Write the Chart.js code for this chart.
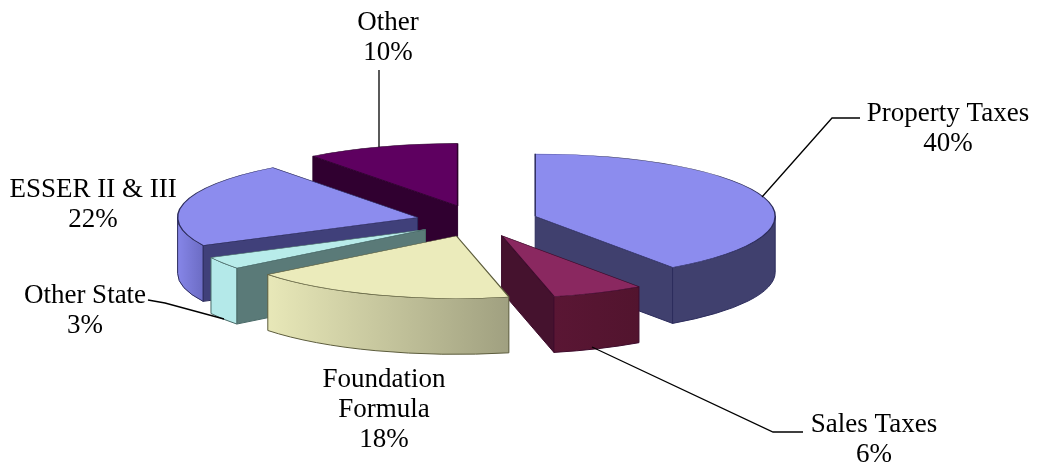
<!DOCTYPE html>
<html>
<head>
<meta charset="utf-8">
<style>
html, body { margin: 0; padding: 0; background: #fff; }
canvas { display: block; }
</style>
<script src="https://cdn.jsdelivr.net/npm/chart.js@4/dist/chart.umd.min.js"></script>
</head>
<body>
<canvas id="chart" width="1037" height="468"></canvas>
<script>
"use strict";

var categories = ["Property Taxes", "Sales Taxes", "Foundation Formula", "Other State", "ESSER II & III", "Other"];
var shares = [40.3, 6.2, 17.9, 3.2, 22.1, 10.3];

var topColors = ["#8c8cee", "#8a2860", "#ebebbb", "#b8ecea", "#8c8cee", "#5e0060"];
var edgeColors = ["#2c2c5c", "#3e0c2c", "#5c5c3c", "#4a6a68", "#2c2c5c", "#2c002c"];
var cutColors = ["#40406e", "#45122e", "#a2a27e", "#5a7a78", "#40407a", "#300030"];
var rimFrom = ["#40406e", "#5a1634", "#e8e8b8", "#b4e9e9", "#8686e8", "#300030"];
var rimTo = ["#40406e", "#52142e", "#a0a080", "#b4e9e9", "#6c6cc4", "#300030"];

var SQUASH = 0.26;
var DEPTH = 56;
var EXPLODE = 61;
var RADIUS = 240;
var paintOrder = [5, 4, 3, 0, 1, 2];

function drawSides(c, arc, i) {
	var r = arc.outerRadius;
	var ry = r * SQUASH;

	c.lineWidth = 1;
	c.lineJoin = "round";
	c.strokeStyle = edgeColors[i];

	function cutFace(t) {
		var ex = arc.x + Math.cos(t) * r;
		var ey = arc.y + Math.sin(t) * ry;
		c.beginPath();
		c.moveTo(arc.x, arc.y);
		c.lineTo(ex, ey);
		c.lineTo(ex, ey + DEPTH);
		c.lineTo(arc.x, arc.y + DEPTH);
		c.closePath();
		c.fillStyle = cutColors[i];
		c.fill();
		c.stroke();
	}

	if (Math.cos(arc.startAngle) < 0) cutFace(arc.startAngle);
	if (Math.cos(arc.endAngle) > 0) cutFace(arc.endAngle);

	// outer rim, only the part that faces us
	var from = Math.max(arc.startAngle, 0);
	var to = Math.min(arc.endAngle, Math.PI);
	if (to > from) {
		var x0 = arc.x + Math.cos(to) * r;
		var x1 = arc.x + Math.cos(from) * r;
		var grad = c.createLinearGradient(x0, 0, x1, 0);
		grad.addColorStop(0, rimFrom[i]);
		grad.addColorStop(1, rimTo[i]);
		c.beginPath();
		c.ellipse(arc.x, arc.y, r, ry, 0, from, to);
		c.ellipse(arc.x, arc.y + DEPTH, r, ry, 0, to, from, true);
		c.closePath();
		c.fillStyle = grad;
		c.fill();
		c.stroke();
	}
}

var pie3d = {
	id: "pie3d",
	beforeDatasetsDraw: function(chart) {
		var c = chart.ctx;
		var arcs = chart.getDatasetMeta(0).data;
		paintOrder.forEach(function(i) {
			var arc = arcs[i];
			var mid = (arc.startAngle + arc.endAngle) / 2;
			c.save();
			// pull the slice out along its middle, then tilt the whole thing
			c.translate(Math.cos(mid) * EXPLODE, Math.sin(mid) * EXPLODE * SQUASH);
			drawSides(c, arc, i);
			c.translate(0, arc.y);
			c.scale(1, SQUASH);
			c.translate(0, -arc.y);
			arc.draw(c);
			c.restore();
		});
		return false;
	}
};

var labelLines = [
	["Property Taxes", "40%"],
	["Sales Taxes", "6%"],
	["Foundation", "Formula", "18%"],
	["Other State", "3%"],
	["ESSER II & III", "22%"],
	["Other", "10%"]
];
var labelSpots = [[948, 121], [874, 432], [384, 387], [85, 303], [93, 197], [388, 30]];
var lineHeight = 30;
var leaders = [
	[[860, 118], [832, 118], [762, 197]],
	[[592, 347], [773, 432], [803, 432]],
	[],
	[[148, 300], [165, 303], [224, 319]],
	[],
	[[379, 70], [379, 147]]
];

var pieLabels = {
	id: "pieLabels",
	afterDraw: function(chart) {
		var c = chart.ctx;
		c.save();
		c.font = "27px 'Liberation Serif'";
		c.fillStyle = "#000";
		c.textAlign = "center";
		c.textBaseline = "alphabetic";
		labelLines.forEach(function(lines, i) {
			lines.forEach(function(line, n) {
				c.fillText(line, labelSpots[i][0], labelSpots[i][1] + n * lineHeight);
			});
		});
		c.strokeStyle = "#000";
		c.lineWidth = 1.3;
		leaders.forEach(function(points) {
			if (!points.length) return;
			c.beginPath();
			points.forEach(function(p, n) {
				if (n === 0) c.moveTo(p[0], p[1]);
				else c.lineTo(p[0], p[1]);
			});
			c.stroke();
		});
		c.restore();
	}
};

new Chart(document.getElementById("chart"), {
	type: "pie",
	data: {
		labels: categories,
		datasets: [{
			data: shares,
			backgroundColor: topColors,
			borderColor: edgeColors,
			borderWidth: 1.5
		}]
	},
	options: {
		responsive: false,
		animation: false,
		radius: RADIUS,
		layout: { padding: { left: 0, top: 0, right: 83, bottom: 26 } },
		plugins: { legend: { display: false }, tooltip: { enabled: false } },
		events: []
	},
	plugins: [pie3d, pieLabels]
});
</script>
</body>
</html>
